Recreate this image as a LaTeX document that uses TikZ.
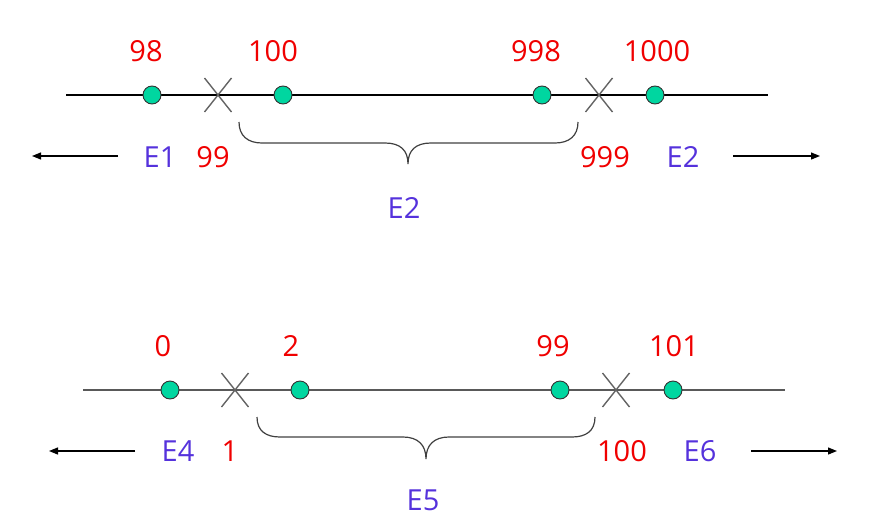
\documentclass[tikz,border=0pt]{standalone}
\usepackage{fontspec}
\setmainfont{Open Sans}
\usetikzlibrary{arrows.meta}
\definecolor{numred}{RGB}{240,0,0}
\definecolor{eblue}{RGB}{85,50,220}
\definecolor{dotfill}{RGB}{0,214,160}
\definecolor{xgray}{RGB}{100,100,100}
\tikzset{
  num/.style={text=numred,font=\fontsize{29}{32}\selectfont,inner sep=0pt},
  elab/.style={text=eblue,font=\fontsize{29}{32}\selectfont,inner sep=0pt},
  dot/.style={circle,draw=black!80,fill=dotfill,line width=0.9pt,minimum size=18pt,inner sep=0pt},
  axis/.style={line width=1.3pt},
  cross/.style={draw=xgray,line width=1.4pt},
  bracepath/.style={draw=black!75,line width=1.2pt},
  arr/.style={line width=1.2pt,-{Triangle[length=9pt,width=7pt]}}
}
\begin{document}
\begin{tikzpicture}[x=1pt,y=-1pt]
\useasboundingbox (0,0) rectangle (891,527);
% ---------- top ----------
\coordinate (t0) at (66,95);
\coordinate (t1) at (768,95);
\draw[axis,black] (t0) -- (t1);
\node[dot] (ta) at (152,95) {};
\node[dot] (tb) at (283,95) {};
\node[dot] (tc) at (542,95) {};
\node[dot] (td) at (655,95) {};
\coordinate (tx1) at (218,95);
\coordinate (tx2) at (599,95);
\draw[cross] ([shift={(-13.5,-17)}]tx1) -- ([shift={(13.5,17)}]tx1);
\draw[cross] ([shift={(-13.5,17)}]tx1) -- ([shift={(13.5,-17)}]tx1);
\draw[cross] ([shift={(-13.5,-17)}]tx2) -- ([shift={(13.5,17)}]tx2);
\draw[cross] ([shift={(-13.5,17)}]tx2) -- ([shift={(13.5,-17)}]tx2);
\node[num] (l98) at (146,51) {98};
\node[num] (l100) at (273,51) {100};
\node[num] (l998) at (536,51) {998};
\node[num] (l1000) at (657,51) {1000};
\node[elab] (e1) at (160,157) {E1};
\node[num] (l99) at (213,157) {99};
\node[num] (l999) at (605,157) {999};
\node[elab] (e2r) at (683,157) {E2};
\node[elab] (e2) at (404,208) {E2};
\draw[bracepath] (239,122) .. controls (239,136) and (248,143) .. (262,143)
  -- (385,143) .. controls (400,143) and (408,150) .. (408,164)
  .. controls (408,150) and (416,143) .. (431,143)
  -- (555,143) .. controls (569,143) and (578,136) .. (578,122);
\coordinate (ta1) at (118,156);
\coordinate (ta2) at (32,156);
\coordinate (ta3) at (733,156);
\coordinate (ta4) at (820,156);
\draw[arr] (ta1) -- (ta2);
\draw[arr] (ta3) -- (ta4);
% ---------- bottom ----------
\coordinate (b0) at (83,390);
\coordinate (b1) at (785,390);
\draw[axis,draw=black!65] (b0) -- (b1);
\node[dot] (ba) at (170,390) {};
\node[dot] (bb) at (300,390) {};
\node[dot] (bc) at (560,390) {};
\node[dot] (bd) at (673,390) {};
\coordinate (bx1) at (235,390);
\coordinate (bx2) at (616,390);
\draw[cross] ([shift={(-13.5,-17)}]bx1) -- ([shift={(13.5,17)}]bx1);
\draw[cross] ([shift={(-13.5,17)}]bx1) -- ([shift={(13.5,-17)}]bx1);
\draw[cross] ([shift={(-13.5,-17)}]bx2) -- ([shift={(13.5,17)}]bx2);
\draw[cross] ([shift={(-13.5,17)}]bx2) -- ([shift={(13.5,-17)}]bx2);
\node[num] (l0) at (163,346) {0};
\node[num] (l2) at (291,346) {2};
\node[num] (l99b) at (553,346) {99};
\node[num] (l101) at (674,346) {101};
\node[elab] (e4) at (178,451) {E4};
\node[num] (l1) at (230,451) {1};
\node[num] (l100b) at (622,451) {100};
\node[elab] (e6) at (700,451) {E6};
\node[elab] (e5) at (423,500) {E5};
\draw[bracepath] (257,417) .. controls (257,431) and (266,437) .. (280,437)
  -- (403,437) .. controls (418,437) and (426,445) .. (426,459)
  .. controls (426,445) and (434,437) .. (449,437)
  -- (572,437) .. controls (586,437) and (595,431) .. (595,417);
\coordinate (ba1) at (135,451);
\coordinate (ba2) at (49,451);
\coordinate (ba3) at (751,451);
\coordinate (ba4) at (837,451);
\draw[arr] (ba1) -- (ba2);
\draw[arr] (ba3) -- (ba4);
\end{tikzpicture}
\end{document}
